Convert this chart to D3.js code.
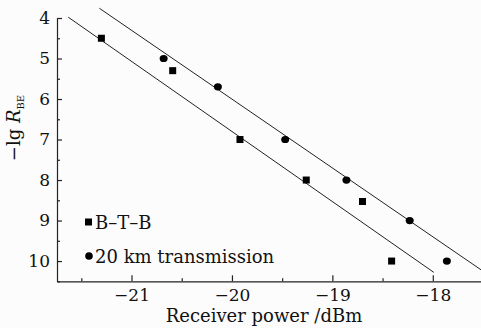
<!DOCTYPE html>
<html>
<head>
<meta charset="utf-8">
<script src="https://cdn.jsdelivr.net/npm/d3@7"></script>
<style>
  body { margin: 0; background: #fcfcfc; }
  svg { display: block; }
  text { font-family: "DejaVu Serif", serif; fill: #111; }
</style>
</head>
<body>
<svg width="481" height="328"></svg>
<script>
// data
const btbX = [-21.30, -20.59, -19.92, -19.26, -18.70, -18.41];
const btbY = [4.5, 5.3, 7.0, 8.0, 8.53, 10.0];
const kmX = [-20.68, -20.14, -19.47, -18.86, -18.23, -17.86];
const kmY = [5.0, 5.7, 7.0, 8.0, 9.0, 10.0];
// fitted lines, end points
const btbFitX = [-21.63, -17.99];
const btbFitY = [3.98, 10.28];
const kmFitX = [-21.32, -17.50];
const kmFitY = [3.76, 10.25];

const xTicks = [-21, -20, -19, -18];
const yTicks = [4, 5, 6, 7, 8, 9, 10];

const svg = d3.select("svg");

let x = d3.scaleLinear().domain([-21.742, -17.52]).range([57, 481]);
let y = d3.scaleLinear().domain([4, 10.5]).range([18, 281.3]);

// minor ticks
svg.append("g")
    .attr("transform", "translate(0," + y(10.5) + ")")
    .call(d3.axisBottom(x).tickValues([-21.5, -20.5, -19.5, -18.5, -17.5]).tickSizeInner(-3).tickSizeOuter(0).tickFormat(""))
    .call(g => g.select(".domain").remove());
svg.append("g")
    .attr("transform", "translate(" + x.range()[0] + ",0)")
    .call(d3.axisLeft(y).tickValues([4.5, 5.5, 6.5, 7.5, 8.5, 9.5, 10.5]).tickSizeInner(-3).tickSizeOuter(0).tickFormat(""))
    .call(g => g.select(".domain").remove());

// x axis
svg.append("g")
    .attr("class", "xaxis")
    .attr("transform", "translate(0," + y(10.5) + ")")
    .call(d3.axisBottom(x).tickValues(xTicks).tickSizeInner(-6).tickSizeOuter(0).tickPadding(8)
        .tickFormat(d => "\u2212" + Math.abs(d)));

// y axis
svg.append("g")
    .attr("class", "yaxis")
    .attr("transform", "translate(" + x.range()[0] + ",0)")
    .call(d3.axisLeft(y).tickValues(yTicks).tickSizeInner(-5).tickSizeOuter(0).tickPadding(7)
        .tickFormat(d3.format("d")));

svg.selectAll(".tick text").attr("font-family", "DejaVu Serif").attr("font-size", 17).attr("fill", "#111");
svg.selectAll(".domain, .tick line").attr("stroke", "#222").attr("stroke-width", 1.2);

// axis titles
svg.append("text")
    .attr("x", 264).attr("y", 322)
    .attr("text-anchor", "middle")
    .attr("font-size", 18)
    .text("Receiver power /dBm");

let yTitle = svg.append("text")
    .attr("transform", "translate(20,128) rotate(-90)")
    .attr("text-anchor", "middle")
    .attr("font-size", 18);
yTitle.append("tspan").text("\u2212lg ");
yTitle.append("tspan").attr("font-style", "italic").text("R");
yTitle.append("tspan").attr("font-size", 10).attr("dy", 4).text("BE");

// fit lines
const line = d3.line().x(d => x(d[0])).y(d => y(d[1]));
svg.append("path").datum(d3.zip(btbFitX, btbFitY))
    .attr("d", line).attr("fill", "none").attr("stroke", "#222").attr("stroke-width", 1);
svg.append("path").datum(d3.zip(kmFitX, kmFitY))
    .attr("d", line).attr("fill", "none").attr("stroke", "#222").attr("stroke-width", 1);

// markers
const sq = 7;
svg.selectAll(".btb")
    .data(d3.zip(btbX, btbY))
    .enter().append("rect")
    .attr("class", "btb")
    .attr("x", d => x(d[0]) - sq / 2)
    .attr("y", d => y(d[1]) - sq / 2)
    .attr("width", sq).attr("height", sq)
    .attr("fill", "#000");

svg.selectAll(".km")
    .data(d3.zip(kmX, kmY))
    .enter().append("ellipse")
    .attr("class", "km")
    .attr("cx", d => x(d[0]))
    .attr("cy", d => y(d[1]))
    .attr("rx", 4).attr("ry", 3.6)
    .attr("fill", "#000");

// legend
let legend = svg.append("g");
legend.append("rect").attr("x", 85).attr("y", 218.5).attr("width", 7).attr("height", 7).attr("fill", "#000");
legend.append("text").attr("x", 95).attr("y", 229).attr("font-size", 18).text("B\u2013T\u2013B");
legend.append("circle").attr("cx", 89).attr("cy", 256).attr("r", 3.8).attr("fill", "#000");
legend.append("text").attr("x", 95).attr("y", 263).attr("font-size", 18).text("20 km transmission");
</script>
</body>
</html>
